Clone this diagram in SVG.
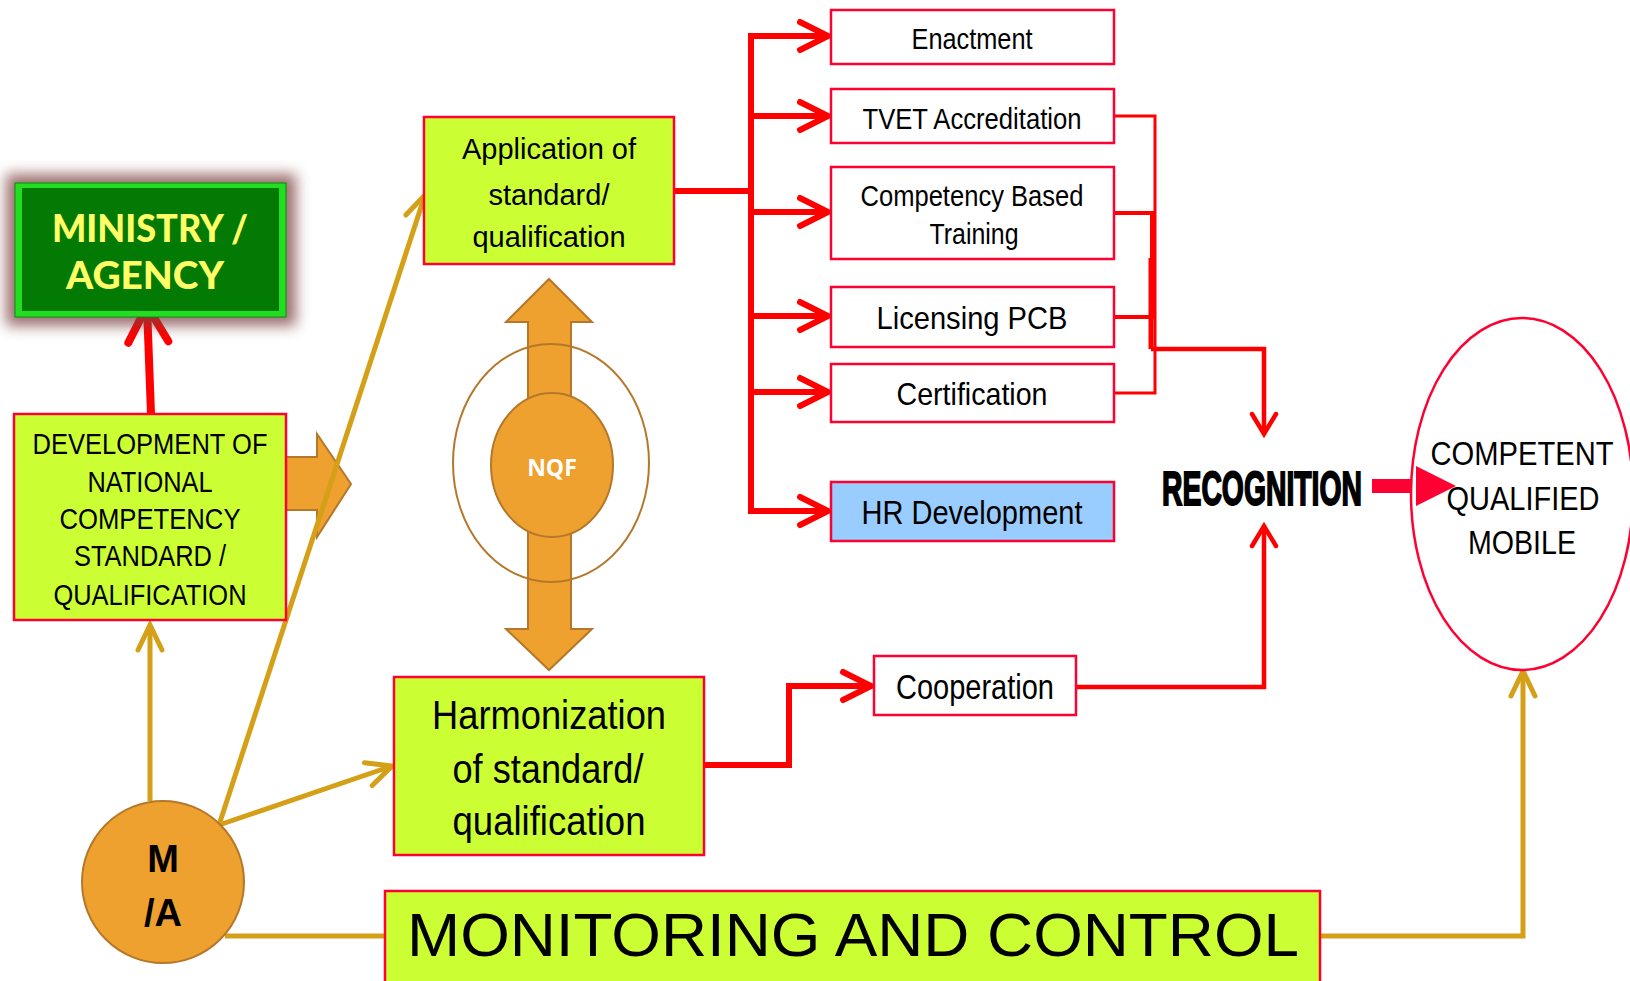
<svg xmlns="http://www.w3.org/2000/svg" width="1630" height="981" viewBox="0 0 1630 981">
<style>
.box{fill:#ccff33;stroke:#ff0033;stroke-width:2.5}
.wbox{fill:#ffffff;stroke:#ff0033;stroke-width:2.5}
.t{font-family:"Liberation Sans",Arial,sans-serif;fill:#000;text-anchor:middle}
.red{stroke:#ff0000;fill:none;stroke-linejoin:miter}
.gold{stroke:#d4a017;fill:none;stroke-width:5}
.orange{fill:#eea12f;stroke:#b5772a;stroke-width:2}
</style>
<defs>
<filter id="glow" x="-20%" y="-30%" width="140%" height="160%"><feGaussianBlur stdDeviation="7"/></filter>
<marker id="ar" viewBox="-34 -18 40 36" refX="0" refY="0" markerWidth="40" markerHeight="36" markerUnits="userSpaceOnUse" orient="auto" overflow="visible">
<path d="M-28,-14 L0,0 L-28,14" fill="none" stroke="#ff0000" stroke-width="6" stroke-linecap="round"/>
</marker>
<marker id="arSm" viewBox="-26 -16 30 32" refX="0" refY="0" markerWidth="30" markerHeight="32" markerUnits="userSpaceOnUse" orient="auto" overflow="visible">
<path d="M-20,-12 L0,0 L-20,12" fill="none" stroke="#ff0000" stroke-width="4.5" stroke-linecap="round"/>
</marker>
<marker id="arBig" viewBox="-44 -24 50 48" refX="0" refY="0" markerWidth="50" markerHeight="48" markerUnits="userSpaceOnUse" orient="auto" overflow="visible">
<path d="M-36,-20 L0,0 L-36,20" fill="none" stroke="#ff0000" stroke-width="8" stroke-linecap="round"/>
</marker>
<marker id="ag" viewBox="-32 -16 36 32" refX="0" refY="0" markerWidth="36" markerHeight="32" markerUnits="userSpaceOnUse" orient="auto" overflow="visible">
<path d="M-25,-12 L0,0 L-25,12" fill="none" stroke="#d4a017" stroke-width="5" stroke-linecap="round"/>
</marker>
</defs>
<rect width="1630" height="981" fill="#ffffff"/>

<!-- connectors -->
<g id="connectors">
  <!-- NQF double arrow and rings (decorative connectors) -->
  <polygon class="orange" points="549,279 592,322 571,322 571,629 592,629 549,670 506,629 528,629 528,322 506,322"/>
  <polygon class="orange" points="286,457 317,457 317,434 351,484 317,537 317,510 286,510"/>
  <!-- gold -->
  <line class="gold" x1="150" y1="801" x2="150" y2="625" marker-end="url(#ag)"/>
  <line class="gold" x1="219" y1="825" x2="425" y2="195" marker-end="url(#ag)"/>
  <line class="gold" x1="219" y1="825" x2="392" y2="766" marker-end="url(#ag)"/>
  <line class="gold" x1="225" y1="936" x2="386" y2="936"/>
  <path class="gold" d="M1320,936 L1523,936 L1523,671" marker-end="url(#ag)"/>
  <!-- red to ministry -->
  <line class="red" stroke-width="8" x1="151" y1="414" x2="147" y2="306" marker-end="url(#arBig)"/>
  <!-- application tree -->
  <line class="red" stroke-width="6" x1="674" y1="191" x2="751" y2="191"/>
  <path class="red" stroke-width="6" d="M751,512 L751,36 L828,36" marker-end="url(#ar)"/>
  <line class="red" stroke-width="6" x1="751" y1="116" x2="828" y2="116" marker-end="url(#ar)"/>
  <line class="red" stroke-width="6" x1="751" y1="212" x2="828" y2="212" marker-end="url(#ar)"/>
  <line class="red" stroke-width="6" x1="751" y1="316" x2="828" y2="316" marker-end="url(#ar)"/>
  <line class="red" stroke-width="6" x1="751" y1="392" x2="828" y2="392" marker-end="url(#ar)"/>
  <path class="red" stroke-width="6" d="M751,509 L751,511 L828,511" marker-end="url(#ar)"/>
  <!-- right bracket to recognition -->
  <path class="red" stroke-width="3" d="M1114,116 L1155,116 L1155,393 L1114,393"/>
  <path class="red" stroke-width="4" d="M1114,213 L1152,213 L1152,317 L1114,317"/>
  <line class="red" stroke-width="5" x1="1151" y1="258" x2="1151" y2="349"/>
  <path class="red" stroke-width="4.5" d="M1151,349 L1264,349 L1264,434" marker-end="url(#arSm)"/>
  <!-- harmonization to cooperation -->
  <path class="red" stroke-width="6" d="M704,765 L789,765 L789,686 L871,686" marker-end="url(#ar)"/>
  <path class="red" stroke-width="4.5" d="M1076,687 L1264,687 L1264,526" marker-end="url(#arSm)"/>
  <!-- recognition to competent -->
  <polygon points="1372,479 1416,479 1416,466 1456,486 1416,506 1416,493 1372,493" fill="#ff0033"/>
</g>

<g id="ministry">
  <rect x="6" y="174" width="290" height="152" fill="#7b3f3f" opacity="0.75" filter="url(#glow)"/>
  <rect x="15" y="183" width="271" height="134" fill="#22dd22"/>
  <rect x="15" y="183" width="271" height="134" fill="none" stroke="#0a8a0a" stroke-width="1"/>
  <rect x="22" y="188" width="257" height="123" fill="#037a03"/>
  <text x="150" y="242" font-family="Lato,'Open Sans',sans-serif" font-weight="900" font-size="37" fill="#ffff66" text-anchor="middle" textLength="196" lengthAdjust="spacingAndGlyphs">MINISTRY /</text>
  <text x="145" y="289" font-family="Lato,'Open Sans',sans-serif" font-weight="900" font-size="37" fill="#ffff66" text-anchor="middle" textLength="158" lengthAdjust="spacingAndGlyphs">AGENCY</text>
</g>

<g id="development">
  <rect class="box" x="14" y="414" width="272" height="206"/>
  <text class="t" font-size="30" x="150" y="454" textLength="235" lengthAdjust="spacingAndGlyphs">DEVELOPMENT OF</text>
  <text class="t" font-size="30" x="150" y="492" textLength="125" lengthAdjust="spacingAndGlyphs">NATIONAL</text>
  <text class="t" font-size="30" x="150" y="529" textLength="181" lengthAdjust="spacingAndGlyphs">COMPETENCY</text>
  <text class="t" font-size="30" x="150" y="566" textLength="152" lengthAdjust="spacingAndGlyphs">STANDARD /</text>
  <text class="t" font-size="30" x="150" y="605" textLength="193" lengthAdjust="spacingAndGlyphs">QUALIFICATION</text>
</g>

<g id="application">
  <rect class="box" x="424" y="117" width="250" height="147"/>
  <text class="t" font-size="29" x="549" y="159">Application of</text>
  <text class="t" font-size="29" x="549" y="205">standard/</text>
  <text class="t" font-size="29" x="549" y="247">qualification</text>
</g>

<g id="nqf">
  <ellipse cx="551" cy="463" rx="98" ry="119" fill="none" stroke="#b5772a" stroke-width="2"/>
  <ellipse class="orange" cx="552" cy="465" rx="61" ry="72"/>
  <text x="552" y="476" font-family="'Open Sans',Inter,sans-serif" font-weight="bold" font-size="23" fill="#ffffff" text-anchor="middle">NQF</text>
</g>

<g id="harmonization">
  <rect class="box" x="394" y="677" width="310" height="178"/>
  <text class="t" font-size="41" x="549" y="729" textLength="234" lengthAdjust="spacingAndGlyphs">Harmonization</text>
  <text class="t" font-size="41" x="548" y="783" textLength="191" lengthAdjust="spacingAndGlyphs">of standard/</text>
  <text class="t" font-size="41" x="549" y="835" textLength="193" lengthAdjust="spacingAndGlyphs">qualification</text>
</g>

<g id="enactment">
  <rect class="wbox" x="831" y="10" width="283" height="54"/>
  <text class="t" font-size="29" x="972" y="49" textLength="121" lengthAdjust="spacingAndGlyphs">Enactment</text>
</g>
<g id="tvet">
  <rect class="wbox" x="831" y="89" width="283" height="54"/>
  <text class="t" font-size="30" x="972" y="129" textLength="219" lengthAdjust="spacingAndGlyphs">TVET Accreditation</text>
</g>
<g id="cbt">
  <rect class="wbox" x="831" y="167" width="283" height="92"/>
  <text class="t" font-size="29" x="972" y="206" textLength="223" lengthAdjust="spacingAndGlyphs">Competency Based</text>
  <text class="t" font-size="29" x="974" y="244" textLength="89" lengthAdjust="spacingAndGlyphs">Training</text>
</g>
<g id="licensing">
  <rect class="wbox" x="831" y="287" width="283" height="60"/>
  <text class="t" font-size="32" x="972" y="329" textLength="191" lengthAdjust="spacingAndGlyphs">Licensing PCB</text>
</g>
<g id="certification">
  <rect class="wbox" x="831" y="364" width="283" height="58"/>
  <text class="t" font-size="32" x="972" y="405" textLength="151" lengthAdjust="spacingAndGlyphs">Certification</text>
</g>
<g id="hr">
  <rect x="831" y="482" width="283" height="59" fill="#99ccff" stroke="#ff0033" stroke-width="2.5"/>
  <text class="t" font-size="33" x="972" y="524" textLength="221" lengthAdjust="spacingAndGlyphs">HR Development</text>
</g>

<g id="cooperation">
  <rect class="wbox" x="874" y="656" width="202" height="59"/>
  <text class="t" font-size="35" x="975" y="699" textLength="158" lengthAdjust="spacingAndGlyphs">Cooperation</text>
</g>

<g id="recognition">
  <text x="1262" y="505" font-family="'Liberation Sans Narrow','Liberation Sans',Arial,sans-serif" font-weight="bold" font-size="49" fill="#000" stroke="#000" stroke-width="2" text-anchor="middle" textLength="200" lengthAdjust="spacingAndGlyphs">RECOGNITION</text>
</g>

<g id="competent">
  <ellipse cx="1522" cy="494" rx="111" ry="176" fill="#ffffff" stroke="#ff0033" stroke-width="2.5"/>
  <text class="t" font-size="34" x="1522" y="465" textLength="183" lengthAdjust="spacingAndGlyphs">COMPETENT</text>
  <text class="t" font-size="34" x="1523" y="510" textLength="153" lengthAdjust="spacingAndGlyphs">QUALIFIED</text>
  <text class="t" font-size="34" x="1522" y="554" textLength="108" lengthAdjust="spacingAndGlyphs">MOBILE</text>
</g>
<polygon points="1416,466 1456,486 1416,506" fill="#ff0033"/>

<g id="ma">
  <ellipse class="orange" cx="163" cy="882" rx="81" ry="81"/>
  <text x="163" y="872" font-family="'Liberation Sans',Arial,sans-serif" font-weight="bold" font-size="38" fill="#000" text-anchor="middle">M</text>
  <text x="163" y="926" font-family="'Liberation Sans',Arial,sans-serif" font-weight="bold" font-size="38" fill="#000" text-anchor="middle">/A</text>
</g>

<g id="monitoring">
  <rect class="box" x="385" y="891" width="935" height="100"/>
  <text class="t" font-size="62" x="853" y="956" textLength="892" lengthAdjust="spacingAndGlyphs">MONITORING AND CONTROL</text>
</g>
</svg>
